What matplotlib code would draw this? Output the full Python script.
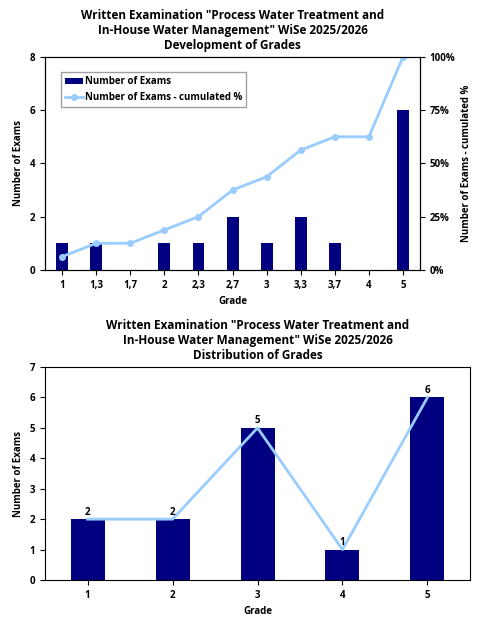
import matplotlib
matplotlib.use("Agg")
import matplotlib.pyplot as plt
import numpy as np

plt.rcParams['font.family'] = ['Open Sans', 'DejaVu Sans']
plt.rcParams['font.size'] = 7

grades_fine = ["1", "1,3", "1,7", "2", "2,3", "2,7", "3", "3,3", "3,7", "4", "5"]
counts_fine = [1, 1, 0, 1, 1, 2, 1, 2, 1, 0, 6]
grades = ["1", "2", "3", "4", "5"]
counts = [2, 2, 5, 1, 6]

navy = "#000080"
light = "#99ccff"

fig = plt.figure(figsize=(4.8, 6.19), dpi=100)

ax1 = fig.add_axes([0.094, 0.564, 0.781, 0.344])
x = np.arange(len(grades_fine))
ax1.bar(x, counts_fine, width=0.35, color=navy, label="Number of Exams")
ax1.set_ylim(0, 8)
ax1.set_yticks(range(0, 9, 2))
ax1.set_xlim(-0.5, len(x) - 0.5)
ax1.set_xticks(x)
ax1.set_xticklabels(grades_fine, fontweight='bold')
for t in ax1.get_yticklabels():
    t.set_fontweight('bold')
ax1.set_xlabel("Grade", fontweight='bold')
ax1.set_ylabel("Number of Exams", fontweight='bold')
ax1.set_title('Written Examination "Process Water Treatment and\nIn-House Water Management" WiSe 2025/2026\nDevelopment of Grades',
              fontweight='bold', fontsize=8.5)
ax2 = ax1.twinx()
cum = np.cumsum(counts_fine) / np.sum(counts_fine) * 100
ax2.plot(x, cum, color=light, lw=2, marker='o', ms=4, label="Number of Exams - cumulated %")
ax2.set_ylim(0, 100)
ax2.set_yticks([0, 25, 50, 75, 100])
ax2.set_yticklabels(["0%", "25%", "50%", "75%", "100%"], fontweight='bold')
ax2.set_ylabel("Number of Exams - cumulated %", fontweight='bold')
h1, l1 = ax1.get_legend_handles_labels()
h2, l2 = ax2.get_legend_handles_labels()
leg = ax1.legend(h1 + h2, l1 + l2, loc='upper left', bbox_to_anchor=(0.03, 0.95),
                 frameon=True, fancybox=False, edgecolor='#888888', handlelength=1.8,
                 handletextpad=0.2, borderpad=0.4, prop={'weight': 'bold', 'size': 7})

ax3 = fig.add_axes([0.094, 0.063, 0.885, 0.344])
xb = np.arange(len(grades))
ax3.bar(xb, counts, width=0.4, color=navy)
ax3.plot(xb, counts, color=light, lw=2)
for xi, c in zip(xb, counts):
    ax3.text(xi, c + 0.05, str(c), ha='center', va='bottom', fontweight='bold')
ax3.set_ylim(0, 7)
ax3.set_xlim(-0.5, len(xb) - 0.5)
ax3.set_xticks(xb)
ax3.set_xticklabels(grades, fontweight='bold')
for t in ax3.get_yticklabels():
    t.set_fontweight('bold')
ax3.set_xlabel("Grade", fontweight='bold')
ax3.set_ylabel("Number of Exams", fontweight='bold')
ax3.set_title('Written Examination "Process Water Treatment and\nIn-House Water Management" WiSe 2025/2026\nDistribution of Grades',
              fontweight='bold', fontsize=8.5)

fig.savefig("out.png", dpi=100)
